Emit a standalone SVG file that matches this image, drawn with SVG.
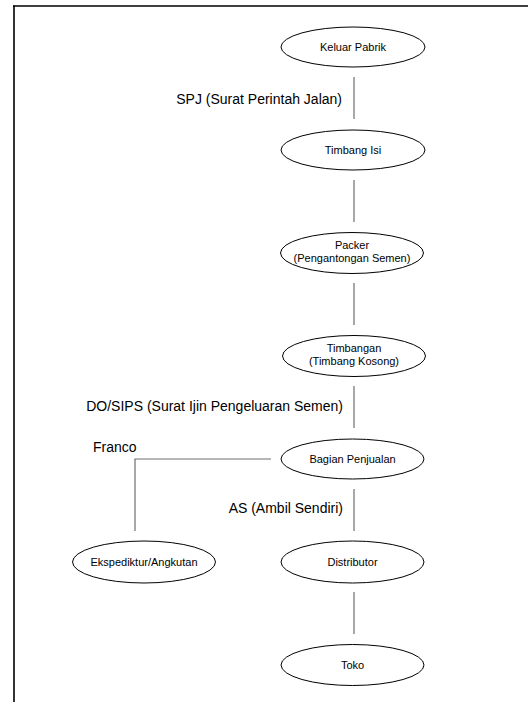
<svg xmlns="http://www.w3.org/2000/svg" width="528" height="702" viewBox="0 0 528 702">
<style>
.node ellipse{fill:#fff;stroke:#000;stroke-width:1}
.node text{font-family:"Liberation Sans",Arial,sans-serif;font-size:11px;fill:#000;text-anchor:middle}
.conn line,.conn polyline{stroke:#6e6e6e;stroke-width:1.2;fill:none}
.lbl{font-family:"Liberation Sans",Arial,sans-serif;font-size:14px;fill:#000}
.border{stroke:#000;fill:none}
</style>
<rect x="0" y="0" width="528" height="702" fill="#fff"/>
<g id="frame">
<line class="border" x1="13" y1="6" x2="528" y2="6" stroke-width="1.3"/>
<line class="border" x1="14" y1="5.5" x2="14" y2="702" stroke-width="1.6"/>
</g>
<g id="connectors" class="conn">
<line x1="354" y1="77" x2="354" y2="119"/>
<line x1="354" y1="180" x2="354" y2="222"/>
<line x1="354" y1="283" x2="354" y2="325"/>
<line x1="354" y1="386" x2="354" y2="428"/>
<line x1="354" y1="489" x2="354" y2="531"/>
<line x1="354" y1="592" x2="354" y2="634"/>
<polyline points="271,459 135,459 135,531"/>
</g>
<g id="labels">
<text class="lbl" x="342" y="104" text-anchor="end">SPJ (Surat Perintah Jalan)</text>
<text class="lbl" x="343" y="411" text-anchor="end">DO/SIPS (Surat Ijin Pengeluaran Semen)</text>
<text class="lbl" x="93" y="452">Franco</text>
<text class="lbl" x="343" y="513" text-anchor="end">AS (Ambil Sendiri)</text>
</g>
<g id="keluar-pabrik" class="node">
<ellipse cx="353" cy="47" rx="72" ry="20"/>
<text x="353" y="51">Keluar Pabrik</text>
</g>
<g id="timbang-isi" class="node">
<ellipse cx="353" cy="150" rx="72" ry="20"/>
<text x="353" y="154">Timbang Isi</text>
</g>
<g id="packer" class="node">
<ellipse cx="352" cy="253" rx="71.5" ry="20.5"/>
<text x="352" y="249">Packer</text>
<text x="352" y="262">(Pengantongan Semen)</text>
</g>
<g id="timbangan" class="node">
<ellipse cx="354" cy="356" rx="71.5" ry="20.5"/>
<text x="354" y="352">Timbangan</text>
<text x="354" y="365">(Timbang Kosong)</text>
</g>
<g id="bagian-penjualan" class="node">
<ellipse cx="352.5" cy="459" rx="71.5" ry="20"/>
<text x="352.5" y="463">Bagian Penjualan</text>
</g>
<g id="ekspediktur" class="node">
<ellipse cx="144" cy="562" rx="71.5" ry="21"/>
<text x="144" y="566">Ekspediktur/Angkutan</text>
</g>
<g id="distributor" class="node">
<ellipse cx="352.5" cy="562" rx="71.5" ry="21"/>
<text x="352.5" y="566">Distributor</text>
</g>
<g id="toko" class="node">
<ellipse cx="352.5" cy="665" rx="71.5" ry="20.5"/>
<text x="352.5" y="669">Toko</text>
</g>
</svg>
